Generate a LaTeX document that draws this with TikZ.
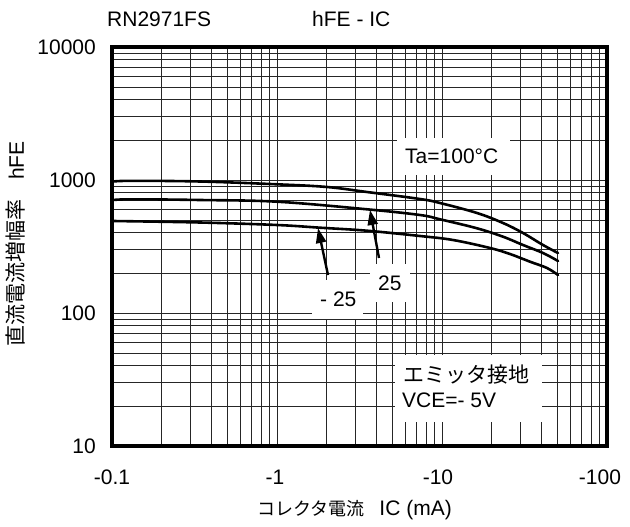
\documentclass[tikz,border=0pt]{standalone}
\usepackage{fontspec}
\setmainfont{Liberation Sans}
\newfontfamily\jp{Noto Sans CJK JP}
\usetikzlibrary{arrows.meta}
\begin{document}
\begin{tikzpicture}[x=1pt,y=-1pt,
  lab/.style={font=\fontsize{21}{21}\selectfont, inner sep=0pt},
  jplab/.style={font=\jp\fontsize{21}{21}\selectfont, inner sep=0pt},
  gridline/.style={line width=0.9pt, draw=black!85},
  curve/.style={line width=2.6pt, line join=round, line cap=round},
  pointer/.style={line width=2.4pt, -{Triangle[length=15pt,width=10pt]}},
  blank/.style={fill=white, draw=none}]
\useasboundingbox[fill=white] (0,0) rectangle (630,527);
% grid
\foreach \d in {0,1,2}{
  \foreach \k in {2,...,10}{
    \pgfmathsetmacro\xx{112+165*(\d+log10(\k))}
    \draw[gridline] (\xx,47) -- (\xx,446);
    \pgfmathsetmacro\yy{446-133*(\d+log10(\k))}
    \draw[gridline] (112,\yy) -- (607,\yy);
  }
}
% white label areas
\fill[blank] (397,138) rectangle (510,175);
\fill[blank] (312,280) rectangle (363,319);
\fill[blank] (370,264) rectangle (410,302);
\fill[blank] (395,355) rectangle (542,422);
% curves
\draw[curve] plot[smooth, tension=0.6] coordinates {(113,181.5) (133,180.8) (200,181.5) (277,184.3) (327,187) (367,192) (420,199) (440,203) (477,213) (503,223) (523,233) (543,245) (558,253)};
\draw[curve] plot[smooth, tension=0.6] coordinates {(113,200) (133,199.3) (200,200) (277,201.7) (367,209.3) (420,215) (440,219.3) (477,228.3) (503,236.7) (523,245) (543,253) (558,261)};
\draw[curve] plot[smooth, tension=0.6] coordinates {(113,221) (200,222.5) (277,225) (320,227.7) (367,230.7) (420,236) (453,240) (490,248) (510,254) (530,261.7) (547,268) (558,275)};
% arrows
\coordinate (m25tail) at (328,275);
\coordinate (m25tip) at (318,228);
\coordinate (p25tail) at (379,258);
\coordinate (p25tip) at (370,210);
\draw[pointer] (m25tail) -- (m25tip);
\draw[pointer] (p25tail) -- (p25tip);
% frame
\draw[line width=4pt] (112,47) rectangle (607,446);
% labels
\node[lab, anchor=base west] (title1) at (107,27) {RN2971FS};
\node[lab, anchor=base west] (title2) at (312,27) {hFE - IC};
\node[lab, anchor=base west] (ta) at (405,163) {Ta=100°C};
\node[lab, anchor=base west] (lm25) at (320,306) {- 25};
\node[lab, anchor=base west] (lp25) at (378,290) {25};
\node[jplab, anchor=base west] (emit) at (403,382) {エミッタ接地};
\node[lab, anchor=base west] (vce) at (402,407) {VCE=- 5V};
% y ticks
\node[lab, anchor=base east] (y4) at (96,55) {10000};
\node[lab, anchor=base east] (y3) at (96,187.5) {1000};
\node[lab, anchor=base east] (y2) at (96,320.5) {100};
\node[lab, anchor=base east] (y1) at (96,453.5) {10};
% x ticks
\node[lab, anchor=base] (x1) at (112,484) {-0.1};
\node[lab, anchor=base] (x2) at (275,484) {-1};
\node[lab, anchor=base] (x3) at (438,484) {-10};
\node[lab, anchor=base] (x4) at (600,484) {-100};
% axis titles
\node[lab, rotate=90] (ytitle) at (16,244) {{\jp 直流電流増幅率}\hspace{20pt}hFE};
\node[lab, anchor=base west] (xtitle) at (257,515) {{\jp\fontsize{18}{18}\selectfont コレクタ電流}\hspace{15pt}IC (mA)};
\end{tikzpicture}
\end{document}
